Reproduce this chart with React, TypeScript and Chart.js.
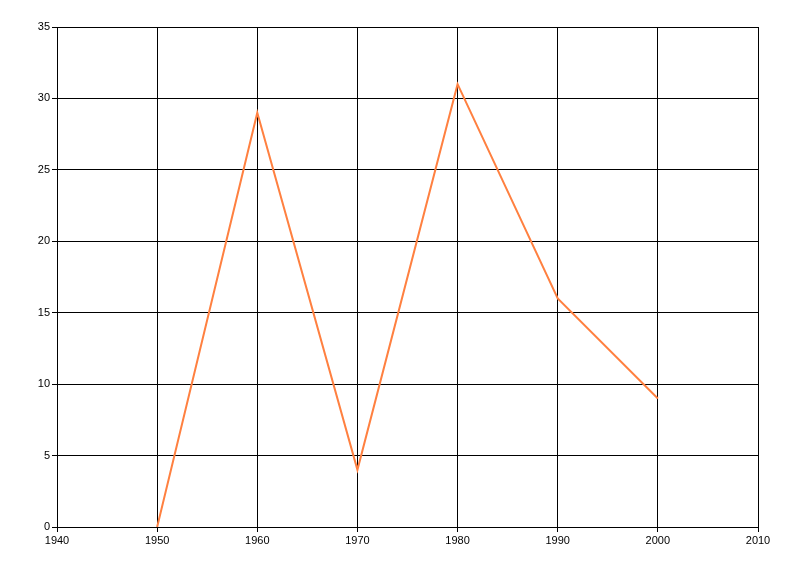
import React, { useEffect, useRef } from "react";
import { Chart, registerables } from "chart.js";

Chart.register(...registerables);

const years = [1950, 1960, 1970, 1980, 1990, 2000];
const values = [0, 29, 4, 31, 16, 9];
const xRange = [1940, 2010];
const yRange = [0, 35];

export default function App() {
  const ref = useRef<HTMLCanvasElement | null>(null);
  useEffect(() => {
    if (!ref.current) return;
    const font = { family: "'Liberation Sans', Arial, sans-serif", size: 11 };
    const chart = new Chart(ref.current, {
      type: "line",
      data: {
        datasets: [
          {
            data: years.map((x, i) => ({ x, y: values[i] })),
            borderColor: "rgb(255,128,64)",
            borderWidth: 2,
            pointRadius: 0,
            fill: false,
            tension: 0,
          },
        ],
      },
      options: {
        animation: false,
        responsive: false,
        maintainAspectRatio: false,
        layout: { padding: { top: 27, right: 42, left: 0, bottom: 0 } },
        plugins: { legend: { display: false }, tooltip: { enabled: false } },
        scales: {
          x: {
            type: "linear",
            min: xRange[0],
            max: xRange[1],
            ticks: { stepSize: 10, color: "#000", font, padding: 2, maxRotation: 0, callback: (v: any) => String(v) },
            grid: { color: "#000", lineWidth: 1, tickLength: 5, drawTicks: true },
            border: { color: "#000", width: 1 },
            afterFit: (s: any) => {
              s.height = 49;
            },
          },
          y: {
            type: "linear",
            min: yRange[0],
            max: yRange[1],
            ticks: { stepSize: 5, color: "#000", font, padding: 2 },
            grid: { color: "#000", lineWidth: 1, tickLength: 5, drawTicks: true },
            border: { color: "#000", width: 1 },
            afterFit: (s: any) => {
              s.width = 57;
            },
          },
        },
      },
    });
    return () => chart.destroy();
  }, []);
  return (
    <div style={{ position: "absolute", left: 0, top: 0, width: 800, height: 576, background: "#fff" }}>
      <canvas ref={ref} width={800} height={576} style={{ width: 800, height: 576 }} />
    </div>
  );
}
